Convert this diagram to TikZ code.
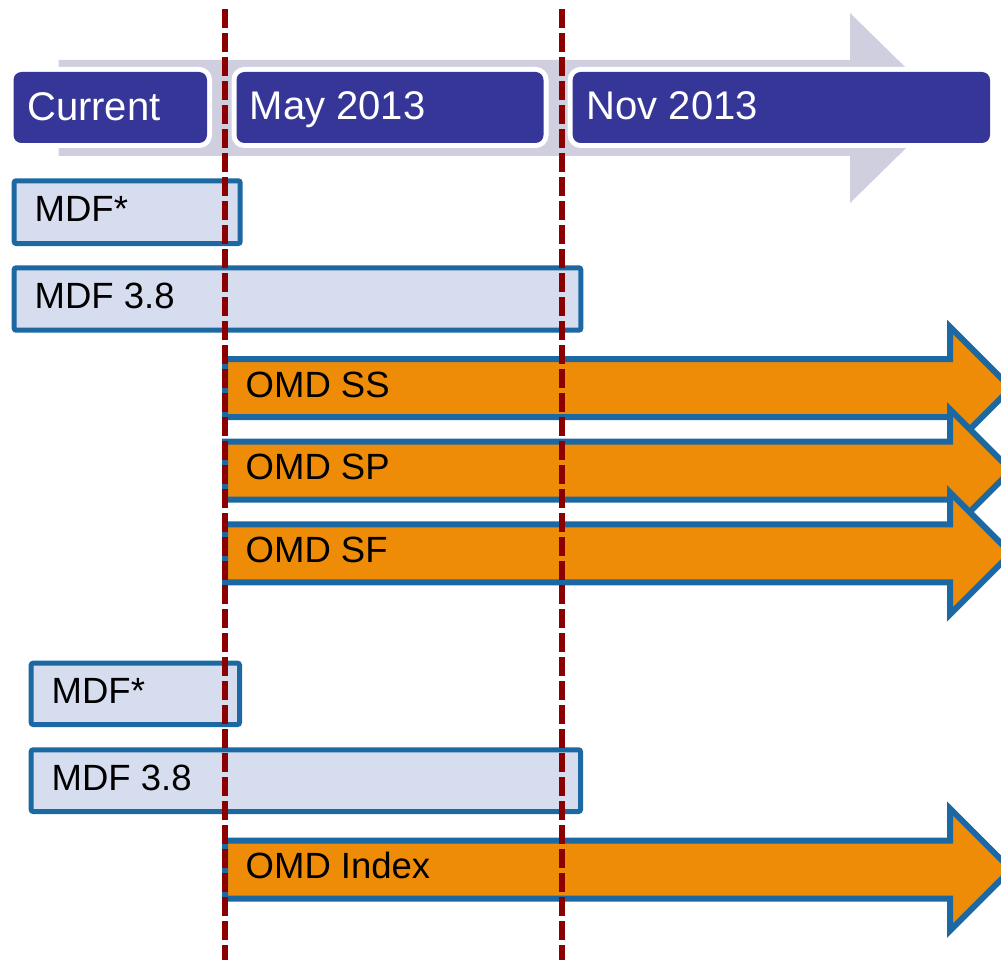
\documentclass[tikz,border=0pt]{standalone}
\usepackage{fontspec}
\setmainfont{Liberation Sans}
\definecolor{hdrblue}{RGB}{54,54,153}
\definecolor{bandgrey}{RGB}{207,207,224}
\definecolor{barfill}{RGB}{213,221,238}
\definecolor{barline}{RGB}{27,104,163}
\definecolor{omdorange}{RGB}{238,140,8}
\definecolor{cutred}{RGB}{139,0,0}
\tikzset{
  hdrbox/.style={fill=hdrblue, rounded corners=8pt, preaction={draw=white, line width=10pt}},
  hdrtxt/.style={text=white, inner sep=0pt, anchor=base west, font=\fontsize{40}{48}\selectfont},
  barbox/.style={fill=barfill, draw=barline, line width=5pt, rounded corners=2pt},
  bartxt/.style={text=black, inner sep=0pt, anchor=base west, font=\fontsize{36.5}{44}\selectfont},
  omdarrow/.style={fill=omdorange, draw=barline, line width=6pt, line join=miter},
  cutline/.style={draw=cutred, line width=6pt, dash pattern=on 18.4pt off 5.6pt}
}
\begin{document}
\begin{tikzpicture}[x=1pt, y=-1pt]
\useasboundingbox (0,0) rectangle (1001,960);
\clip (0,0) rectangle (1001,960);

% timeline band arrow
\fill[bandgrey] (58.5,60) -- (850,60) -- (850,13) -- (947,108) -- (850,203)
  -- (850,156) -- (58.5,156) -- cycle;

% period headers
\path[hdrbox] (13.5,72) rectangle (207,143);
\path[hdrbox] (236.5,72) rectangle (543.5,143);
\path[hdrbox] (572.7,72) rectangle (990,143);
\node[hdrtxt] (hcur) at (27,120.5) {Current};
\node[hdrtxt] (hmay) at (249.5,120) {May 2013};
\node[hdrtxt] (hnov) at (586.5,120) {Nov 2013};

% first group
\draw[barbox] (14.2,180.8) rectangle (240.2,243.5);
\node[bartxt] (mdfa) at (34.5,222) {MDF*};
\draw[barbox] (14.2,267.8) rectangle (580.8,330.2);
\node[bartxt] (mdfb) at (34.5,308.3) {MDF 3.8};

\foreach \cy/\nm/\lbl/\bl in {388/ss/OMD SS/397.5, 470.5/sp/OMD SP/479.5, 553.3/sf/OMD SF/562} {
  \draw[omdarrow] (225,\cy-29) -- (950,\cy-29) -- (950,\cy-61) -- (1011,\cy)
    -- (950,\cy+61) -- (950,\cy+29) -- (225,\cy+29) -- cycle;
  \node[bartxt] (omd\nm) at (245.5,\bl) {\lbl};
}

% second group
\draw[barbox] (31.2,663.2) rectangle (239.5,724.5);
\node[bartxt] (mdfc) at (51.5,703.3) {MDF*};
\draw[barbox] (31.2,749.8) rectangle (580.5,811.5);
\node[bartxt] (mdfd) at (51.5,790) {MDF 3.8};

\draw[omdarrow] (225,840.5) -- (950,840.5) -- (950,808.5) -- (1011,869.5)
  -- (950,930.5) -- (950,898.5) -- (225,898.5) -- cycle;
\node[bartxt] (omdix) at (245.5,878) {OMD Index};

% release cut-off lines
\coordinate (cutatop) at (225,9.3);
\coordinate (cutabot) at (225,962);
\coordinate (cutbtop) at (562,9.3);
\coordinate (cutbbot) at (562,962);
\draw[cutline] (cutatop) -- (cutabot);
\draw[cutline] (cutbtop) -- (cutbbot);
\end{tikzpicture}
\end{document}
